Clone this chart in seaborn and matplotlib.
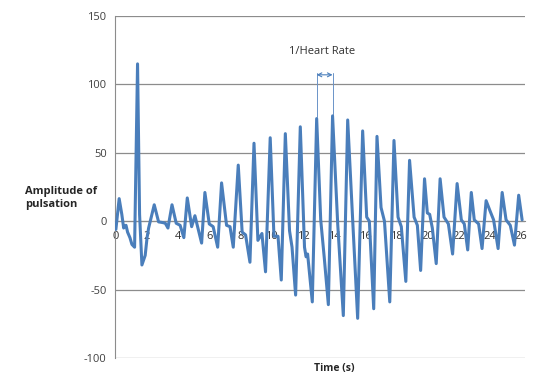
import matplotlib
matplotlib.use("Agg")
import matplotlib.pyplot as plt
import seaborn as sns
import pandas as pd

# waveform vertices (time in s, amplitude)
time_s = [
    0.0, 0.21, 0.38, 0.5, 0.65, 0.75, 0.9, 1.03, 1.2, 1.39, 1.52, 1.67, 1.88, 2.0, 2.1,
    2.46, 2.74, 3.0, 3.17, 3.34, 3.6, 3.87, 4.12, 4.36, 4.58, 4.86, 5.07, 5.5, 5.71,
    5.99, 6.24, 6.53, 6.78, 7.1, 7.32, 7.53, 7.85, 8.1, 8.32, 8.6, 8.86, 9.11, 9.37,
    9.6, 9.9, 10.14, 10.4, 10.61, 10.87, 11.14, 11.3, 11.53, 11.83, 12.1, 12.2, 12.3,
    12.6, 12.88, 13.14, 13.37, 13.63, 13.9, 14.23, 14.59, 14.87, 15.19, 15.51, 15.83,
    16.09, 16.26, 16.54, 16.75, 17.01, 17.23, 17.57, 17.84, 18.1, 18.31, 18.6, 18.84,
    19.13, 19.34, 19.55, 19.8, 19.98, 20.13, 20.3, 20.55, 20.8, 21.05, 21.33, 21.6,
    21.89, 22.16, 22.35, 22.57, 22.8, 22.99, 23.27, 23.49, 23.75, 24.02, 24.23, 24.52,
    24.78, 25.03, 25.3, 25.57, 25.84, 26.06,
]
amplitude = [
    -6, 16.5, 5, -5, -3, -8, -12, -17, -19, 115, 5, -32, -25, -12, -5,
    12, -0.5, -1, -1.5, -5, 12, -1.5, -3, -12, 17, -4, 4, -16, 21,
    -2, -4, -19, 28, -3, -4, -19, 41, -8, -10, -30, 57, -14, -9,
    -37, 61, -11, -11, -43, 64, -7, -19, -54, 69, -19, -26, -24,
    -59, 75, 1, -27, -61, 77, -2, -69, 74, 1, -71, 66,
    3, 0, -64, 62, 10, 0, -59, 59, 3, -4, -44, 44.5,
    3, -3, -36, 31, 6, 5, -5, -31, 31, 3, -2, -24,
    27.5, 1, -2, -21, 21, 1, -2, -20, 15, 7, 1, -20,
    21, 1, -3, -17.5, 19, 1,
]
x_ticks = list(range(0, 27, 2))
y_ticks = [-100, -50, 0, 50, 100, 150]
hr_peaks = [12.88, 13.9]

df = pd.DataFrame({"time": time_s, "amp": amplitude})

sns.set_style("white")
plt.rcParams["font.family"] = ["Open Sans", "DejaVu Sans"]
plt.rcParams["axes.unicode_minus"] = False

fig = plt.figure(figsize=(5.58, 3.79), dpi=100)
ax = fig.add_axes([0.206, 0.0554, 0.735, 0.9024])

grid_c = "#8c8c8c"
for v in y_ticks:
    ax.axhline(v, color=grid_c, lw=0.9, zorder=1)

sns.lineplot(data=df, x="time", y="amp", ax=ax, color="#4A7EBB", lw=2.2,
             sort=False, zorder=3, solid_joinstyle="round")

ax.set_xlim(-0.06, 26.25)
ax.set_ylim(-100, 150)
ax.set_yticks(y_ticks)
ax.set_xticks(x_ticks)
ax.set_xlabel("")
ax.set_ylabel("")

for s in ["top", "right"]:
    ax.spines[s].set_visible(False)
ax.spines["bottom"].set_position(("data", 0))
ax.spines["bottom"].set_color(grid_c)
ax.spines["left"].set_color(grid_c)
ax.tick_params(axis="y", length=4, color=grid_c, labelsize=8, labelcolor="#404040", pad=2)
ax.tick_params(axis="x", length=0, labelsize=8, labelcolor="#303030", pad=7)

# 1/Heart Rate annotation
for p in hr_peaks:
    ax.plot([p, p], [76, 108], color="#6a93c8", lw=0.7, zorder=2)
ax.annotate("", xy=(hr_peaks[0], 107), xytext=(hr_peaks[1], 107),
            arrowprops=dict(arrowstyle="<->", color="#4A7EBB", lw=0.8,
                            shrinkA=0, shrinkB=0, mutation_scale=7))
ax.text(13.25, 120, "1/Heart Rate", ha="center", va="bottom", fontsize=8, color="#303030")

fig.text(25 / 558, 1 - 198 / 379, "Amplitude of\npulsation", fontsize=8, fontweight="bold",
         ha="left", va="center", linespacing=1.2)
fig.text(334 / 558, 1 - 368 / 379, "Time (s)", fontsize=7.5, fontweight="bold",
         ha="center", va="center")

fig.savefig("out.png", dpi=100)
